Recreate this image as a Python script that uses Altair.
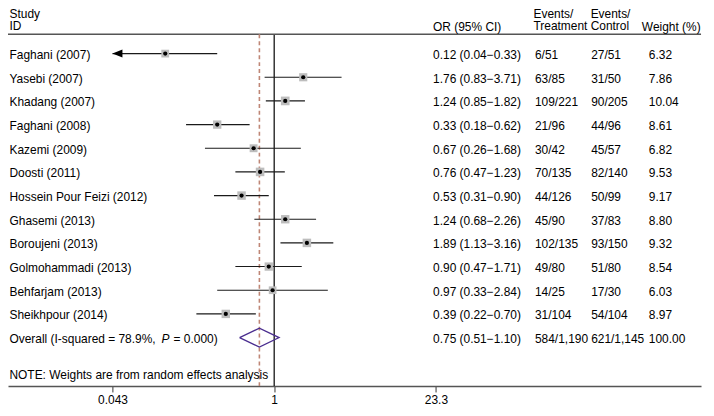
import altair as alt
import pandas as pd

FONT = "Liberation Sans"

studies = ["Faghani (2007)", "Yasebi (2007)", "Khadang (2007)", "Faghani (2008)",
           "Kazemi (2009)", "Doosti (2011)", "Hossein Pour Feizi (2012)", "Ghasemi (2013)",
           "Boroujeni (2013)", "Golmohammadi (2013)", "Behfarjam (2013)", "Sheikhpour (2014)"]
odds = [0.12, 1.76, 1.24, 0.33, 0.67, 0.76, 0.53, 1.24, 1.89, 0.90, 0.97, 0.39]
lower = [0.04, 0.83, 0.85, 0.18, 0.26, 0.47, 0.31, 0.68, 1.13, 0.47, 0.33, 0.22]
upper = [0.33, 3.71, 1.82, 0.62, 1.68, 1.23, 0.90, 2.26, 3.16, 1.71, 2.84, 0.70]
events_t = ["6/51", "63/85", "109/221", "21/96", "30/42", "70/135", "44/126", "45/90",
            "102/135", "49/80", "14/25", "31/104"]
events_c = ["27/51", "31/50", "90/205", "44/96", "45/57", "82/140", "50/99", "37/83",
            "93/150", "51/80", "17/30", "54/104"]
weights = [6.32, 7.86, 10.04, 8.61, 6.82, 9.53, 9.17, 8.80, 9.32, 8.54, 6.03, 8.97]

overall_est, overall_lo, overall_hi = 0.75, 0.51, 1.10
overall_t, overall_c, overall_w = "584/1,190", "621/1,145", 100.00
overall_parts = ["Overall (I-squared = 78.9%, ", "P", "= 0.000)"]
note = "NOTE: Weights are from random effects analysis"
tick_values = [0.043, 1, 23.3]
header_left = "Study\nID"
header_treat = "Events/\nTreatment"
header_ctrl = "Events/\nControl"

W, H = 697, 379
X_DOMAIN = [0.005628, 4051]
Y_DOMAIN = [-1.878, 14.046]
Y_HEAD_LINE = -0.815
HDR_TOP = -1.72
HDR_SINGLE = -1.17

xscale = alt.Scale(type="log", domain=X_DOMAIN, nice=False)
yscale = alt.Scale(domain=Y_DOMAIN, reverse=True, nice=False, zero=False)
xmin_clip, xmax_clip = tick_values[0], tick_values[-1]

n = len(studies)
rows = pd.DataFrame({
    "r": list(range(n)),
    "study": studies,
    "or": odds,
    "lo": lower,
    "hi": upper,
    "w": weights,
})
rows["lo_c"] = rows["lo"].clip(lower=xmin_clip)
rows["hi_c"] = rows["hi"].clip(upper=xmax_clip)
rows["arrow_l"] = rows["lo"] < xmin_clip

def fmt_or(o, l, h):
    return f"{o:.2f} ({l:.2f}\u2212{h:.2f})"

table = pd.DataFrame({
    "r": list(range(n)) + [n],
    "ortxt": [fmt_or(o, l, h) for o, l, h in zip(odds, lower, upper)]
             + [fmt_or(overall_est, overall_lo, overall_hi)],
    "et": events_t + [overall_t],
    "ec": events_c + [overall_c],
    "wt": [f"{w:.2f}" for w in weights] + [f"{overall_w:.2f}"],
})

def Y(field):
    return alt.Y(field, scale=yscale, axis=None)

xaxis = alt.Axis(values=tick_values, labelExpr="datum.value + ''", title=None, grid=False,
                 domainColor="#555555", domainWidth=1.5, tickColor="#333333", tickSize=6,
                 tickWidth=1, labelFont=FONT, labelFontSize=12, labelColor="black",
                 labelPadding=3, labelFlush=False)

# header line spanning the whole width
header_rule = alt.Chart(pd.DataFrame({"y": [Y_HEAD_LINE], "x1": [X_DOMAIN[0]], "x2": [X_DOMAIN[1]]})).mark_rule(
    color="#555555", strokeWidth=1.5).encode(
    y=Y("y:Q"), x=alt.X("x1:Q", scale=xscale), x2="x2:Q")

vlines = pd.DataFrame({"x": [1.0], "y1": [Y_HEAD_LINE], "y2": [Y_DOMAIN[1]]})
null_rule = alt.Chart(vlines).mark_rule(color="black", strokeWidth=1.2).encode(
    x=alt.X("x:Q", scale=xscale, axis=xaxis), y=Y("y1:Q"), y2="y2:Q")

elines = pd.DataFrame({"x": [overall_est], "y1": [Y_HEAD_LINE], "y2": [Y_DOMAIN[1]]})
est_rule = alt.Chart(elines).mark_rule(
    color="#bf8676", strokeWidth=1.6, strokeDash=[4, 3]).encode(
    x=alt.X("x:Q", scale=xscale), y=Y("y1:Q"), y2="y2:Q")

ci = alt.Chart(rows).mark_rule(color="#1a1a1a", strokeWidth=1.1).encode(
    x=alt.X("lo_c:Q", scale=xscale), x2="hi_c:Q", y=Y("r:Q"))

arrow = alt.Chart(rows[rows["arrow_l"]]).mark_point(
    shape="M-1,0L1,-0.8L1,0.8Z", filled=True, color="black", opacity=1, size=100, xOffset=5).encode(
    x=alt.X("lo_c:Q", scale=xscale), y=Y("r:Q"))

boxes = alt.Chart(rows).mark_square(color="#bdbdbd", opacity=1).encode(
    x=alt.X("or:Q", scale=xscale), y=Y("r:Q"),
    size=alt.Size("w:Q", scale=alt.Scale(domain=[6.03, 10.04], range=[60, 76], zero=False), legend=None))

dots = alt.Chart(rows).mark_point(filled=True, color="black", opacity=1, shape="circle", size=18).encode(
    x=alt.X("or:Q", scale=xscale), y=Y("r:Q"))

diamond_df = pd.DataFrame({
    "x": [overall_lo, overall_est, overall_hi, overall_est, overall_lo],
    "y": [n, n - 0.4, n, n + 0.4, n],
    "o": [0, 1, 2, 3, 4],
})
diamond = alt.Chart(diamond_df).mark_line(color="#4a2d8f", strokeWidth=1.3).encode(
    x=alt.X("x:Q", scale=xscale), y=Y("y:Q"), order="o:O")

def txt(data, field, xpx, **kw):
    return alt.Chart(data).mark_text(align="left", baseline="alphabetic", dy=5.5, font=FONT,
                                     fontSize=12, color="black", **kw).encode(
        x=alt.value(xpx), y=Y("r:Q"), text=f"{field}:N")

labels = txt(rows, "study", 1.5)
or_col = txt(table, "ortxt", 427.5)
et_col = txt(table, "et", 530)
ec_col = txt(table, "ec", 586.5)
wt_col = txt(table, "wt", 644.5)

ov1 = txt(pd.DataFrame({"r": [n], "t": [overall_parts[0]]}), "t", 1.5)
ov2 = txt(pd.DataFrame({"r": [n], "t": [overall_parts[1]]}), "t", 154.5, fontStyle="italic")
ov3 = txt(pd.DataFrame({"r": [n], "t": [overall_parts[2]]}), "t", 166.5)
note_t = txt(pd.DataFrame({"r": [13.5], "t": [note]}), "t", 1.5)

ML = dict(lineBreak="\n", lineHeight=12)
hdr_left = txt(pd.DataFrame({"r": [HDR_TOP], "t": [header_left]}), "t", 1.5, **ML)
hdr_ev_t = txt(pd.DataFrame({"r": [HDR_TOP], "t": [header_treat]}), "t", 528.5, **ML)
hdr_ev_c = txt(pd.DataFrame({"r": [HDR_TOP], "t": [header_ctrl]}), "t", 586, **ML)
hdr_or = txt(pd.DataFrame({"r": [HDR_SINGLE], "t": ["OR (95% CI)"]}), "t", 427.5)
hdr_w = txt(pd.DataFrame({"r": [HDR_SINGLE], "t": ["Weight (%)"]}), "t", 637.5)

chart = alt.layer(
    null_rule, header_rule, est_rule, ci, arrow, boxes, dots, diamond,
    labels, or_col, et_col, ec_col, wt_col, ov1, ov2, ov3, note_t,
    hdr_left, hdr_ev_t, hdr_ev_c, hdr_or, hdr_w,
).properties(
    width=W, height=H,
    autosize=alt.AutoSizeParams(type="none"),
    padding={"left": 0, "top": 0, "right": 5, "bottom": 24},
).configure_view(stroke=None)

chart.save("out.html", embed_options={"renderer": "svg", "actions": False})
